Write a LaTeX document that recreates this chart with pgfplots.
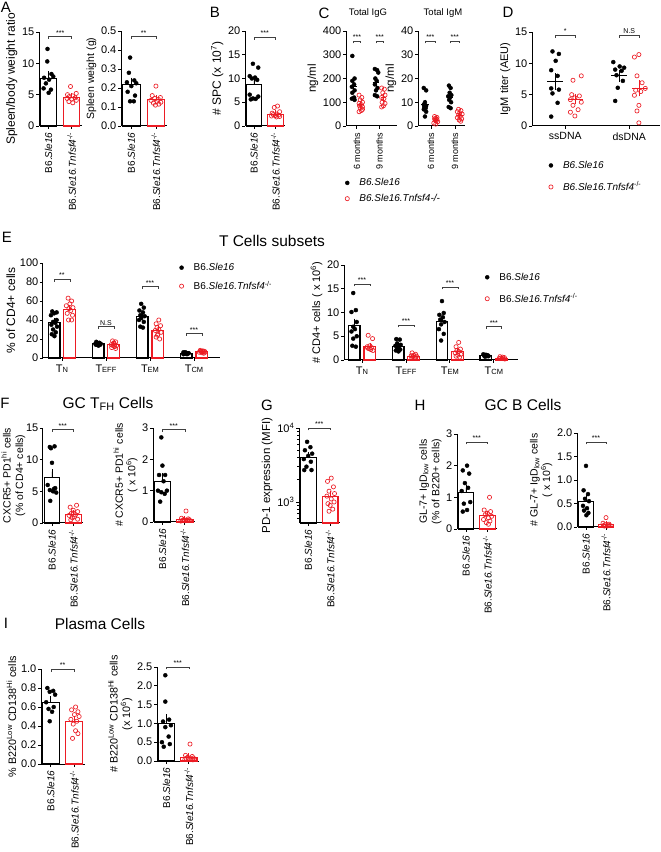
\documentclass[border=0pt]{standalone}
\usepackage{pgfplots}
\pgfplotsset{compat=1.18}
\usepackage{fontspec}
\setmainfont{Liberation Sans}
\definecolor{gpred}{RGB}{236,28,36}
\newcommand{\fs}[1]{\fontsize{#1}{#1}\selectfont}
% color, x, mean, sem, width
\newcommand{\gbar}[5]{%
  \addplot[ybar, bar width=#5, bar shift=0pt, draw=#1, fill=white, line width=1.1pt, forget plot,
    error bars/.cd, y dir=plus, y explicit, error bar style={line width=0.8pt, #1, solid},
    error mark options={mark size=2.5pt, line width=0.8pt, #1}]
    coordinates {(#2,#3) +- (0,#4)};}
% color, x1, x2, xc, mean, sem
\newcommand{\mline}[6]{%
  \addplot[#1, line width=1pt, forget plot] coordinates {(#2,#5) (#3,#5)};
  \addplot[#1, mark=none, forget plot, error bars/.cd, y dir=both, y explicit,
    error bar style={line width=0.8pt,#1}, error mark options={mark size=1.8pt, line width=0.8pt,#1}]
    coordinates {(#4,#5) +- (0,#6)};}
% x1, x2, xm, y, text
\newcommand{\sig}[5]{%
  \draw[line width=0.5pt, black!75] ([yshift=-2.5pt]axis cs:#1,#4) -- (axis cs:#1,#4) -- (axis cs:#2,#4) -- ([yshift=-2.5pt]axis cs:#2,#4);
  \node[font=\fs{7}, inner sep=0pt, anchor=south] at ([yshift=1pt]axis cs:#3,#4) {#5};}
\pgfplotsset{
 gp/.style={scale only axis, clip=false, axis lines=left,
   axis line style={-, line width=1pt, black},
   tick align=outside, major tick length=3pt, minor tick length=1.8pt,
   tick style={line width=0.8pt, black},
   ymin=0, xmin=-0.42, xmax=1.45, xtick={0,1},
   /pgf/number format/assume math mode=true,
   yticklabel style={font=\fs{11}, inner sep=1.5pt},
   xticklabel style={font=\fs{10}},
   ylabel style={font=\fontsize{11}{12.5}\selectfont, align=center, inner sep=1pt},
   ylabel shift=2pt,
   anchor=south west},
 yl/.style={ylabel style={font=\fontsize{#1}{12.5}\selectfont}},
 two/.style={gp, xticklabels={B6.\textit{Sle16}, B6.\textit{Sle16.Tnfsf4}\textsuperscript{-/-}}, xticklabel style={rotate=90, anchor=east}},
 dec1/.style={yticklabel style={/pgf/number format/.cd, fixed, fixed zerofill, precision=1}},
 blk/.style={only marks, mark=*, mark size=2pt, black},
 rd/.style={only marks, mark=o, mark size=2.1pt, gpred, mark options={line width=0.65pt}},
 leg/.style={legend cell align=left, legend style={draw=none, fill=none, font=\fs{10}, anchor=north west, inner sep=0pt, row sep=#1, column sep=8pt}},
}
\begin{document}
\begin{tikzpicture}
\useasboundingbox (0,0) rectangle (661pt,852pt);
% panel letters and titles
\node[font=\fs{15}] at (6pt,845pt) {A};
\node[font=\fs{15}] at (215pt,840pt) {B};
\node[font=\fs{15}] at (324pt,839pt) {C};
\node[font=\fs{15}] at (508pt,840pt) {D};
\node[font=\fs{15}] at (7pt,615pt) {E};
\node[font=\fs{15}] at (5pt,449pt) {F};
\node[font=\fs{15}] at (267pt,447pt) {G};
\node[font=\fs{15}] at (420pt,447pt) {H};
\node[font=\fs{15}] at (6pt,229pt) {I};
\node[font=\fs{9.5}] at (368pt,839pt) {Total IgG};
\node[font=\fs{9.5}] at (443pt,839pt) {Total IgM};
\node[font=\fs{15.5}] at (272pt,611pt) {T Cells subsets};
\node[font=\fs{15.5}] at (108pt,448pt) {GC T\textsubscript{FH} Cells};
\node[font=\fs{15.5}] at (523pt,447pt) {GC B Cells};
\node[font=\fs{15.5}] at (100pt,228pt) {Plasma Cells};

% A1
\begin{axis}[two, yl=12, at={(39pt,726pt)}, width=43pt, height=94pt, ymax=15, ytick={0,5,10,15}, ylabel={Spleen/body weight ratio}]
\gbar{black}{0}{7.6}{0.7}{0.72}
\gbar{gpred}{1}{4.6}{0.25}{0.72}
\addplot[blk] coordinates {(-0.05,12.3) (-0.06,10.3) (0.12,8.3) (-0.2,7.7) (0.02,7.4) (0.2,7.9) (-0.12,6.8) (-0.22,6.0) (0.1,5.8) (0.0,5.3)};
\addplot[rd] coordinates {(0.95,6.3) (1.2,5.2) (0.82,5.0) (1.05,4.8) (0.9,4.7) (1.15,4.5) (0.8,4.4) (1.0,4.3) (1.2,4.1) (1.05,3.7) (0.88,3.9)};
\sig{0}{1}{0.5}{14.3}{***}
\end{axis}
% A2
\begin{axis}[two, dec1, yl=10.5, at={(121pt,726pt)}, width=46pt, height=95pt, ymax=0.5, ytick={0,0.1,0.2,0.3,0.4,0.5}, ylabel={Spleen weight (g)}]
\gbar{black}{0}{0.22}{0.022}{0.72}
\gbar{gpred}{1}{0.14}{0.008}{0.72}
\addplot[blk] coordinates {(-0.05,0.36) (-0.1,0.28) (0.12,0.24) (-0.18,0.23) (0.2,0.225) (0.0,0.21) (-0.15,0.18) (0.15,0.16) (-0.05,0.13) (0.1,0.13)};
\addplot[rd] coordinates {(1.0,0.21) (0.85,0.16) (1.18,0.15) (0.95,0.145) (1.1,0.14) (0.8,0.135) (1.05,0.13) (1.2,0.125) (0.9,0.12) (1.12,0.115) (0.98,0.11)};
\sig{0}{1}{0.5}{0.47}{**}
\end{axis}
% B
\begin{axis}[two, yl=12, at={(245pt,726pt)}, width=40pt, height=95pt, ymax=20, ytick={0,5,10,15,20}, ylabel={\# SPC (x 10\textsuperscript{7})}]
\gbar{black}{0}{8.8}{0.85}{0.72}
\gbar{gpred}{1}{2.5}{0.25}{0.72}
\addplot[blk] coordinates {(-0.05,13.1) (0.2,12.3) (-0.2,10.5) (0.05,10.2) (-0.1,10.0) (0.15,9.7) (-0.2,6.6) (0.2,6.2) (-0.05,5.8) (0.08,5.7) (-0.15,5.6)};
\addplot[rd] coordinates {(1.1,4.2) (0.95,3.9) (1.2,3.0) (0.85,2.7) (1.05,2.5) (0.9,2.4) (1.15,2.3) (1.0,2.2) (0.82,2.1) (1.2,2.0) (1.05,1.9)};
\sig{0}{1}{0.5}{18.7}{***}
\end{axis}
% C1 IgG
\begin{axis}[gp, yl=11.5, at={(346pt,726pt)}, width=51pt, height=95pt, xmin=-0.48, xmax=1.78, ymax=400, ytick={0,100,200,300,400}, ylabel={ng/ml},
  xticklabels={6 months, 9 months}, xticklabel style={rotate=90, anchor=east, font=\fs{9}},
  leg=3pt, legend style={at={(-0.02,-0.53)}}]
\mline{black}{-0.3}{0.0}{-0.15}{166}{17}
\mline{gpred}{0.05}{0.3}{0.17}{90}{6}
\mline{black}{0.7}{1.0}{0.85}{183}{12}
\mline{gpred}{1.05}{1.3}{1.18}{118}{9}
\addplot[blk] coordinates {(-0.2,295) (-0.1,200) (-0.2,190) (-0.12,175) (-0.22,165) (-0.1,150) (-0.2,140) (-0.12,120) (-0.22,115) (-0.1,110) (0.8,240) (0.9,235) (0.95,225) (0.82,200) (0.88,190) (0.8,175) (0.92,160) (0.85,150) (0.8,130) (0.9,125)};
\addlegendentry{\textit{B6.Sle16}}
\addplot[rd] coordinates {(0.1,130) (0.22,120) (0.15,110) (0.25,100) (0.1,95) (0.2,90) (0.12,85) (0.25,80) (0.15,75) (0.2,65) (0.1,60) (0.25,70) (1.1,160) (1.22,155) (1.15,140) (1.25,130) (1.1,120) (1.2,115) (1.12,100) (1.25,95) (1.18,85) (1.1,80)};
\addlegendentry{\textit{B6.Sle16.Tnfsf4-/-}}
\sig{-0.15}{0.17}{0.01}{358}{***}
\sig{0.85}{1.18}{1.015}{358}{***}
\end{axis}
% C2 IgM
\begin{axis}[gp, yl=11.5, at={(418pt,726pt)}, width=47pt, height=95pt, xmin=-0.54, xmax=1.42, ymax=40, ytick={0,10,20,30,40}, ylabel={ng/ml},
  xticklabels={6 months, 9 months}, xticklabel style={rotate=90, anchor=east, font=\fs{9}}]
\mline{black}{-0.4}{-0.1}{-0.25}{9.1}{1.2}
\mline{gpred}{0.07}{0.33}{0.2}{2.5}{0.3}
\mline{black}{0.65}{0.93}{0.79}{12.1}{0.95}
\mline{gpred}{1.07}{1.33}{1.2}{4.5}{0.5}
\addplot[blk] coordinates {(-0.3,16) (-0.2,15) (-0.25,10) (-0.3,9) (-0.2,8.5) (-0.28,8) (-0.22,7.5) (-0.3,7) (-0.2,6) (-0.25,4) (0.75,17) (0.82,16) (0.78,14) (0.85,13) (0.72,12.5) (0.8,12) (0.76,11) (0.84,10) (0.74,8) (0.82,7.5)};
\addplot[rd] coordinates {(0.15,4) (0.25,3.6) (0.2,3.2) (0.15,3) (0.25,2.8) (0.18,2.5) (0.22,2.2) (0.28,1.8) (0.12,1.2) (0.2,0.8) (1.15,7) (1.25,6.5) (1.1,6) (1.2,5.5) (1.3,5) (1.15,4.5) (1.22,4) (1.1,3.5) (1.28,3) (1.18,2.5) (1.24,2)};
\sig{-0.25}{0.2}{-0.025}{35.8}{***}
\sig{0.79}{1.2}{0.995}{35.8}{***}
\end{axis}
% D
\begin{axis}[gp, yl=11, at={(532pt,726pt)}, width=128pt, height=94pt, xmin=-0.52, xmax=1.48, ymax=15, ytick={0,5,10,15}, ylabel={IgM titer (AEU)},
  xticklabels={ssDNA, dsDNA}, xticklabel style={font=\fs{10.5}},
  leg=8pt, legend style={at={(0.13,-0.35)}}]
\mline{black}{-0.28}{-0.04}{-0.16}{7.1}{1.05}
\mline{gpred}{0.04}{0.28}{0.16}{4.3}{0.55}
\mline{black}{0.72}{0.96}{0.84}{8.0}{0.65}
\mline{gpred}{1.04}{1.28}{1.16}{6.0}{1.0}
\addplot[blk] coordinates {(-0.2,11.9) (-0.1,11.5) (-0.15,10.4) (-0.22,8.9) (-0.12,8.0) (-0.22,6.0) (-0.1,5.8) (-0.2,5.2) (-0.12,3.7) (-0.22,1.5) (0.75,10.2) (0.85,9.5) (0.92,9.3) (0.78,9.0) (0.88,8.8) (0.8,8.1) (0.9,7.2) (0.82,6.1) (0.78,4.0)};
\addlegendentry{\textit{B6.Sle16}}
\addplot[rd] coordinates {(0.25,8.0) (0.12,7.3) (0.1,5.0) (0.22,4.8) (0.15,4.5) (0.08,4.2) (0.25,3.8) (0.12,3.3) (0.2,2.6) (0.08,2.2) (0.15,1.6) (1.15,11.4) (1.08,11.0) (1.12,8.0) (1.2,6.9) (1.25,6.0) (1.1,5.7) (1.18,5.5) (1.08,4.9) (1.15,3.3) (1.12,2.4) (1.15,0.5)};
\addlegendentry{\textit{B6.Sle16.Tnfsf4}\textsuperscript{-/-}}
\sig{-0.16}{0.16}{0}{14.5}{*}
\sig{0.84}{1.16}{1}{14.5}{N.S}
\end{axis}
% E1
\begin{axis}[gp, yl=12, at={(43pt,494pt)}, width=177pt, height=95pt, xmin=-0.43, xmax=3.59, xtick={0,1,2,3}, ymax=100, ytick={0,20,40,60,80,100},
  xticklabels={T{\fs{7.5}N}, T{\fs{7.5}EFF}, T{\fs{7.5}EM}, T{\fs{7.5}CM}}, xticklabel style={font=\fs{11}}, ylabel={\% of CD4+ cells},
  leg=5pt, legend style={at={(0.77,1.02)}}]
\gbar{black}{-0.18}{37}{2.3}{0.27}
\gbar{gpred}{0.18}{51}{2}{0.27}
\gbar{black}{0.82}{15}{0.4}{0.27}
\gbar{gpred}{1.18}{14}{0.8}{0.27}
\gbar{black}{1.82}{44}{2.3}{0.27}
\gbar{gpred}{2.18}{29}{1.8}{0.27}
\gbar{black}{2.82}{5}{0.25}{0.27}
\gbar{gpred}{3.18}{6.5}{0.3}{0.27}
\addplot[blk] coordinates {(-0.22,49) (-0.12,48) (-0.18,47) (-0.25,45) (-0.12,40) (-0.2,38) (-0.15,37) (-0.24,35) (-0.11,33) (-0.2,30) (-0.14,27) (-0.23,25) (-0.17,23)
 (0.78,17) (0.85,16) (0.8,16) (0.88,15) (0.76,15) (0.84,15) (0.8,14) (0.87,14) (0.77,14) (0.83,13)
 (1.8,57) (1.86,53) (1.76,50) (1.84,48) (1.78,45) (1.88,44) (1.8,42) (1.75,40) (1.86,38) (1.78,33) (1.84,32)
 (2.76,6) (2.82,5.5) (2.86,5) (2.8,5) (2.78,4.5) (2.84,4) (2.88,5) (2.8,6) (2.76,4)};
\addlegendentry{B6.\textit{Sle16}}
\addplot[rd] coordinates {(0.14,63) (0.22,60) (0.18,57) (0.1,55) (0.25,53) (0.16,52) (0.2,50) (0.12,47) (0.24,45) (0.15,40) (0.22,40)
 (1.15,18) (1.22,17) (1.18,15) (1.12,14) (1.24,13) (1.16,13) (1.2,12) (1.13,11) (1.22,10) (1.18,16)
 (2.2,40) (2.14,36) (2.24,34) (2.16,32) (2.2,30) (2.12,29) (2.25,27) (2.18,25) (2.14,22) (2.22,20) (2.17,24)
 (3.14,8) (3.2,7.5) (3.24,7) (3.16,7) (3.2,6.5) (3.12,6) (3.25,6) (3.18,5.5) (3.22,5) (3.15,7)};
\addlegendentry{B6.\textit{Sle16.Tnfsf4}\textsuperscript{-/-}}
\sig{-0.18}{0.18}{0}{83}{**}
\sig{0.82}{1.18}{1}{33}{N.S}
\sig{1.82}{2.18}{2}{75}{***}
\sig{2.82}{3.18}{3}{26}{***}
\end{axis}
% E2
\begin{axis}[gp, yl=11, at={(344pt,492pt)}, width=174pt, height=95pt, xmin=-0.41, xmax=3.55, xtick={0,1,2,3}, ymax=20, ytick={0,5,10,15,20},
  xticklabels={T{\fs{7.5}N}, T{\fs{7.5}EFF}, T{\fs{7.5}EM}, T{\fs{7.5}CM}}, xticklabel style={font=\fs{11}}, ylabel={\# CD4+ cells ( x 10\textsuperscript{6})},
  leg=8pt, legend style={at={(0.81,0.94)}}]
\gbar{black}{-0.18}{7.2}{1.0}{0.27}
\gbar{gpred}{0.18}{2.8}{0.35}{0.27}
\gbar{black}{0.82}{2.9}{0.28}{0.27}
\gbar{gpred}{1.18}{0.8}{0.1}{0.27}
\gbar{black}{1.82}{8.1}{0.7}{0.27}
\gbar{gpred}{2.18}{1.8}{0.3}{0.27}
\gbar{black}{2.82}{0.9}{0.06}{0.27}
\gbar{gpred}{3.18}{0.4}{0.06}{0.27}
\addplot[blk] coordinates {(-0.2,14.1) (-0.14,10.5) (-0.24,10.1) (-0.12,8) (-0.2,7) (-0.16,6.5) (-0.24,6) (-0.12,5) (-0.2,4.5) (-0.22,3.0) (-0.14,2.8)
 (0.78,4.4) (0.86,4.3) (0.8,3.5) (0.88,3.2) (0.76,3) (0.84,2.8) (0.8,2.5) (0.87,2.2) (0.77,2) (0.83,1.8)
 (1.82,12.4) (1.86,9.9) (1.76,9.5) (1.84,9) (1.78,8.5) (1.88,8) (1.8,7.5) (1.75,6.5) (1.86,5.5) (1.8,4.1)
 (2.76,1.2) (2.82,1.1) (2.86,1) (2.8,1) (2.78,0.9) (2.84,0.8) (2.88,0.8) (2.8,0.7)};
\addlegendentry{B6.\textit{Sle16}}
\addplot[rd] coordinates {(0.14,5.2) (0.24,4.5) (0.18,3) (0.12,2.8) (0.22,2.6) (0.16,2.4) (0.2,2.2) (0.25,2.0) (0.13,2.5)
 (1.14,1.5) (1.22,1.2) (1.18,1) (1.12,0.9) (1.24,0.8) (1.16,0.7) (1.2,0.6) (1.13,0.5) (1.22,0.4)
 (2.2,3.7) (2.14,2.8) (2.24,2.3) (2.16,2) (2.2,1.8) (2.12,1.5) (2.25,1.2) (2.18,1) (2.14,0.8) (2.22,0.6)
 (3.14,0.7) (3.2,0.6) (3.24,0.5) (3.16,0.4) (3.2,0.3) (3.12,0.3) (3.25,0.2)};
\addlegendentry{B6.\textit{Sle16.Tnfsf4}\textsuperscript{-/-}}
\sig{-0.18}{0.18}{0}{16}{***}
\sig{0.82}{1.18}{1}{7.4}{***}
\sig{1.82}{2.18}{2}{15.4}{***}
\sig{2.82}{3.18}{3}{7}{***}
\end{axis}
% F1
\begin{axis}[two, yl=10.5, ylabel shift=-2pt, at={(43pt,329pt)}, width=40pt, height=95pt, ymax=15, ytick={0,5,10,15}, ylabel={CXCR5+ PD1\textsuperscript{hi} cells\\(\% of CD4+ cells)}]
\gbar{black}{0}{7.2}{0.9}{0.72}
\gbar{gpred}{1}{1.4}{0.2}{0.72}
\addplot[blk] coordinates {(-0.1,12.0) (0.12,12.1) (-0.05,11.8) (0.0,9.5) (-0.2,6.0) (0.15,5.5) (-0.1,5.2) (0.05,5.0) (0.2,4.8) (-0.08,3.5) (0.1,5.4)};
\addplot[rd] coordinates {(1.15,2.8) (0.85,2.5) (1.0,2.0) (1.2,1.8) (0.9,1.5) (1.1,1.3) (0.8,1.2) (1.05,1.0) (0.95,0.8) (1.2,0.6) (0.88,0.5) (1.0,1.6)};
\sig{0}{1}{0.5}{14.8}{***}
\end{axis}
% F2
\begin{axis}[two, yl=10.5, at={(153pt,330pt)}, width=42pt, height=94pt, ymax=3, ytick={0,1,2,3}, ylabel={\# CXCR5+ PD1\textsuperscript{hi} cells\\( x 10\textsuperscript{6})}]
\gbar{black}{0}{1.3}{0.19}{0.72}
\gbar{gpred}{1}{0.08}{0.03}{0.72}
\addplot[blk] coordinates {(-0.05,2.7) (0.0,1.8) (-0.15,1.5) (0.12,1.5) (0.05,1.3) (-0.2,1.0) (0.2,1.0) (-0.05,0.95) (0.1,0.9) (-0.1,0.65)};
\addplot[rd] coordinates {(1.05,0.35) (0.85,0.12) (1.15,0.1) (0.95,0.08) (1.2,0.07) (0.9,0.05) (1.1,0.05) (1.0,0.04) (0.82,0.03) (1.18,0.06)};
\sig{0}{1}{0.5}{2.95}{***}
\end{axis}
% G
\begin{axis}[two, yl=11.5, at={(299pt,329pt)}, width=41pt, height=95pt, ymode=log, ymin=520, ymax=10000, log origin y=infty,
  ytick={1000,10000}, yticklabels={10\textsuperscript{3},10\textsuperscript{4}}, minor ytick={600,700,800,900,2000,3000,4000,5000,6000,7000,8000,9000},
  ylabel={PD-1 expression (MFI)}]
\gbar{black}{0}{4000}{400}{0.72}
\gbar{gpred}{1}{1200}{120}{0.72}
\addplot[blk] coordinates {(-0.05,6500) (0.1,5500) (-0.15,5000) (0.18,4500) (0.0,4200) (-0.2,3800) (0.12,3500) (-0.08,3000) (-0.18,2700) (0.15,2700)};
\addplot[rd] coordinates {(1.05,2100) (0.88,1900) (1.15,1600) (0.95,1400) (1.2,1300) (0.85,1200) (1.05,1100) (1.18,1000) (0.9,950) (1.0,900) (1.12,800) (0.95,750)};
\draw[line width=0.5pt, black!75] ([yshift=-2.5pt]axis description cs:0.2246,1) -- (axis description cs:0.2246,1) -- (axis description cs:0.759,1) -- ([yshift=-2.5pt]axis description cs:0.759,1);
\node[font=\fs{7}, inner sep=0pt, anchor=south] at ([yshift=1pt]axis description cs:0.492,1) {***};
\end{axis}
% H1
\begin{axis}[two, yl=10.5, at={(457pt,323pt)}, width=40pt, height=95pt, ymax=3, ytick={0,1,2,3}, ylabel={GL-7+ IgD\textsubscript{low} cells\\(\% of B220+ cells)}]
\gbar{black}{0}{1.15}{0.15}{0.72}
\gbar{gpred}{1}{0.42}{0.07}{0.72}
\addplot[blk] coordinates {(0.05,2.0) (-0.15,1.85) (0.15,1.75) (-0.05,1.45) (0.1,1.3) (-0.2,1.2) (0.2,0.85) (-0.1,0.8) (0.05,0.6) (-0.15,0.55)};
\addplot[rd] coordinates {(1.1,1.0) (0.85,0.6) (1.15,0.55) (1.0,0.5) (0.9,0.45) (1.2,0.4) (1.05,0.35) (0.82,0.3) (1.12,0.25) (0.95,0.2) (1.05,0.15)};
\sig{0}{1}{0.5}{2.75}{***}
\end{axis}
% H2
\begin{axis}[two, dec1, yl=10.5, at={(577pt,325pt)}, width=36pt, height=94pt, xmin=-0.45, xmax=1.35, ymax=2, ytick={0,0.5,1,1.5,2}, ylabel={\# GL-7+ IgD\textsubscript{low} cells\\( x 10\textsuperscript{6})}]
\gbar{black}{0}{0.54}{0.09}{0.72}
\gbar{gpred}{1}{0.05}{0.02}{0.72}
\addplot[blk] coordinates {(0.0,1.3) (-0.12,0.78) (0.1,0.7) (-0.05,0.6) (0.15,0.55) (-0.15,0.45) (0.05,0.4) (-0.1,0.35) (0.12,0.3) (0.02,0.25)};
\addplot[rd] coordinates {(1.0,0.2) (0.85,0.08) (1.15,0.06) (0.95,0.05) (1.1,0.04) (0.88,0.03) (1.2,0.03) (1.05,0.02) (0.92,0.02)};
\sig{0}{1}{0.5}{1.81}{***}
\end{axis}
% I1
\begin{axis}[two, dec1, yl=10.8, at={(41pt,88pt)}, width=44pt, height=95pt, ymax=1, ytick={0,0.2,0.4,0.6,0.8,1}, ylabel={\% B220\textsuperscript{Low} CD138\textsuperscript{Hi} cells}]
\gbar{black}{0}{0.65}{0.04}{0.72}
\gbar{gpred}{1}{0.45}{0.03}{0.72}
\addplot[blk] coordinates {(-0.15,0.8) (0.1,0.77) (-0.05,0.76) (0.18,0.73) (-0.2,0.65) (0.12,0.6) (-0.1,0.58) (0.05,0.55) (-0.05,0.45)};
\addplot[rd] coordinates {(1.05,0.6) (0.88,0.57) (1.15,0.55) (1.0,0.52) (1.2,0.5) (0.85,0.47) (1.1,0.45) (0.95,0.42) (1.05,0.35) (1.15,0.32) (0.92,0.27)};
\sig{0}{1}{0.5}{1.0}{**}
\end{axis}
% I2
\begin{axis}[two, dec1, yl=10.8, at={(157pt,91pt)}, width=42pt, height=94pt, ymax=2.5, ytick={0,0.5,1,1.5,2,2.5}, ylabel={\# B220\textsuperscript{Low} CD138\textsuperscript{Hi} cells\\(x 10\textsuperscript{6})}]
\gbar{black}{0}{1.0}{0.18}{0.72}
\gbar{gpred}{1}{0.1}{0.04}{0.72}
\addplot[blk] coordinates {(-0.05,2.28) (-0.05,1.58) (0.12,1.1) (-0.15,1.05) (0.2,0.95) (-0.05,0.9) (0.1,0.65) (-0.2,0.5) (0.15,0.45) (-0.12,0.38)};
\addplot[rd] coordinates {(1.05,0.45) (0.85,0.15) (1.15,0.12) (0.95,0.1) (1.2,0.08) (0.88,0.07) (1.1,0.06) (1.0,0.05) (0.82,0.04) (1.18,0.03)};
\sig{0}{1}{0.5}{2.5}{***}
\end{axis}
\end{tikzpicture}
\end{document}
